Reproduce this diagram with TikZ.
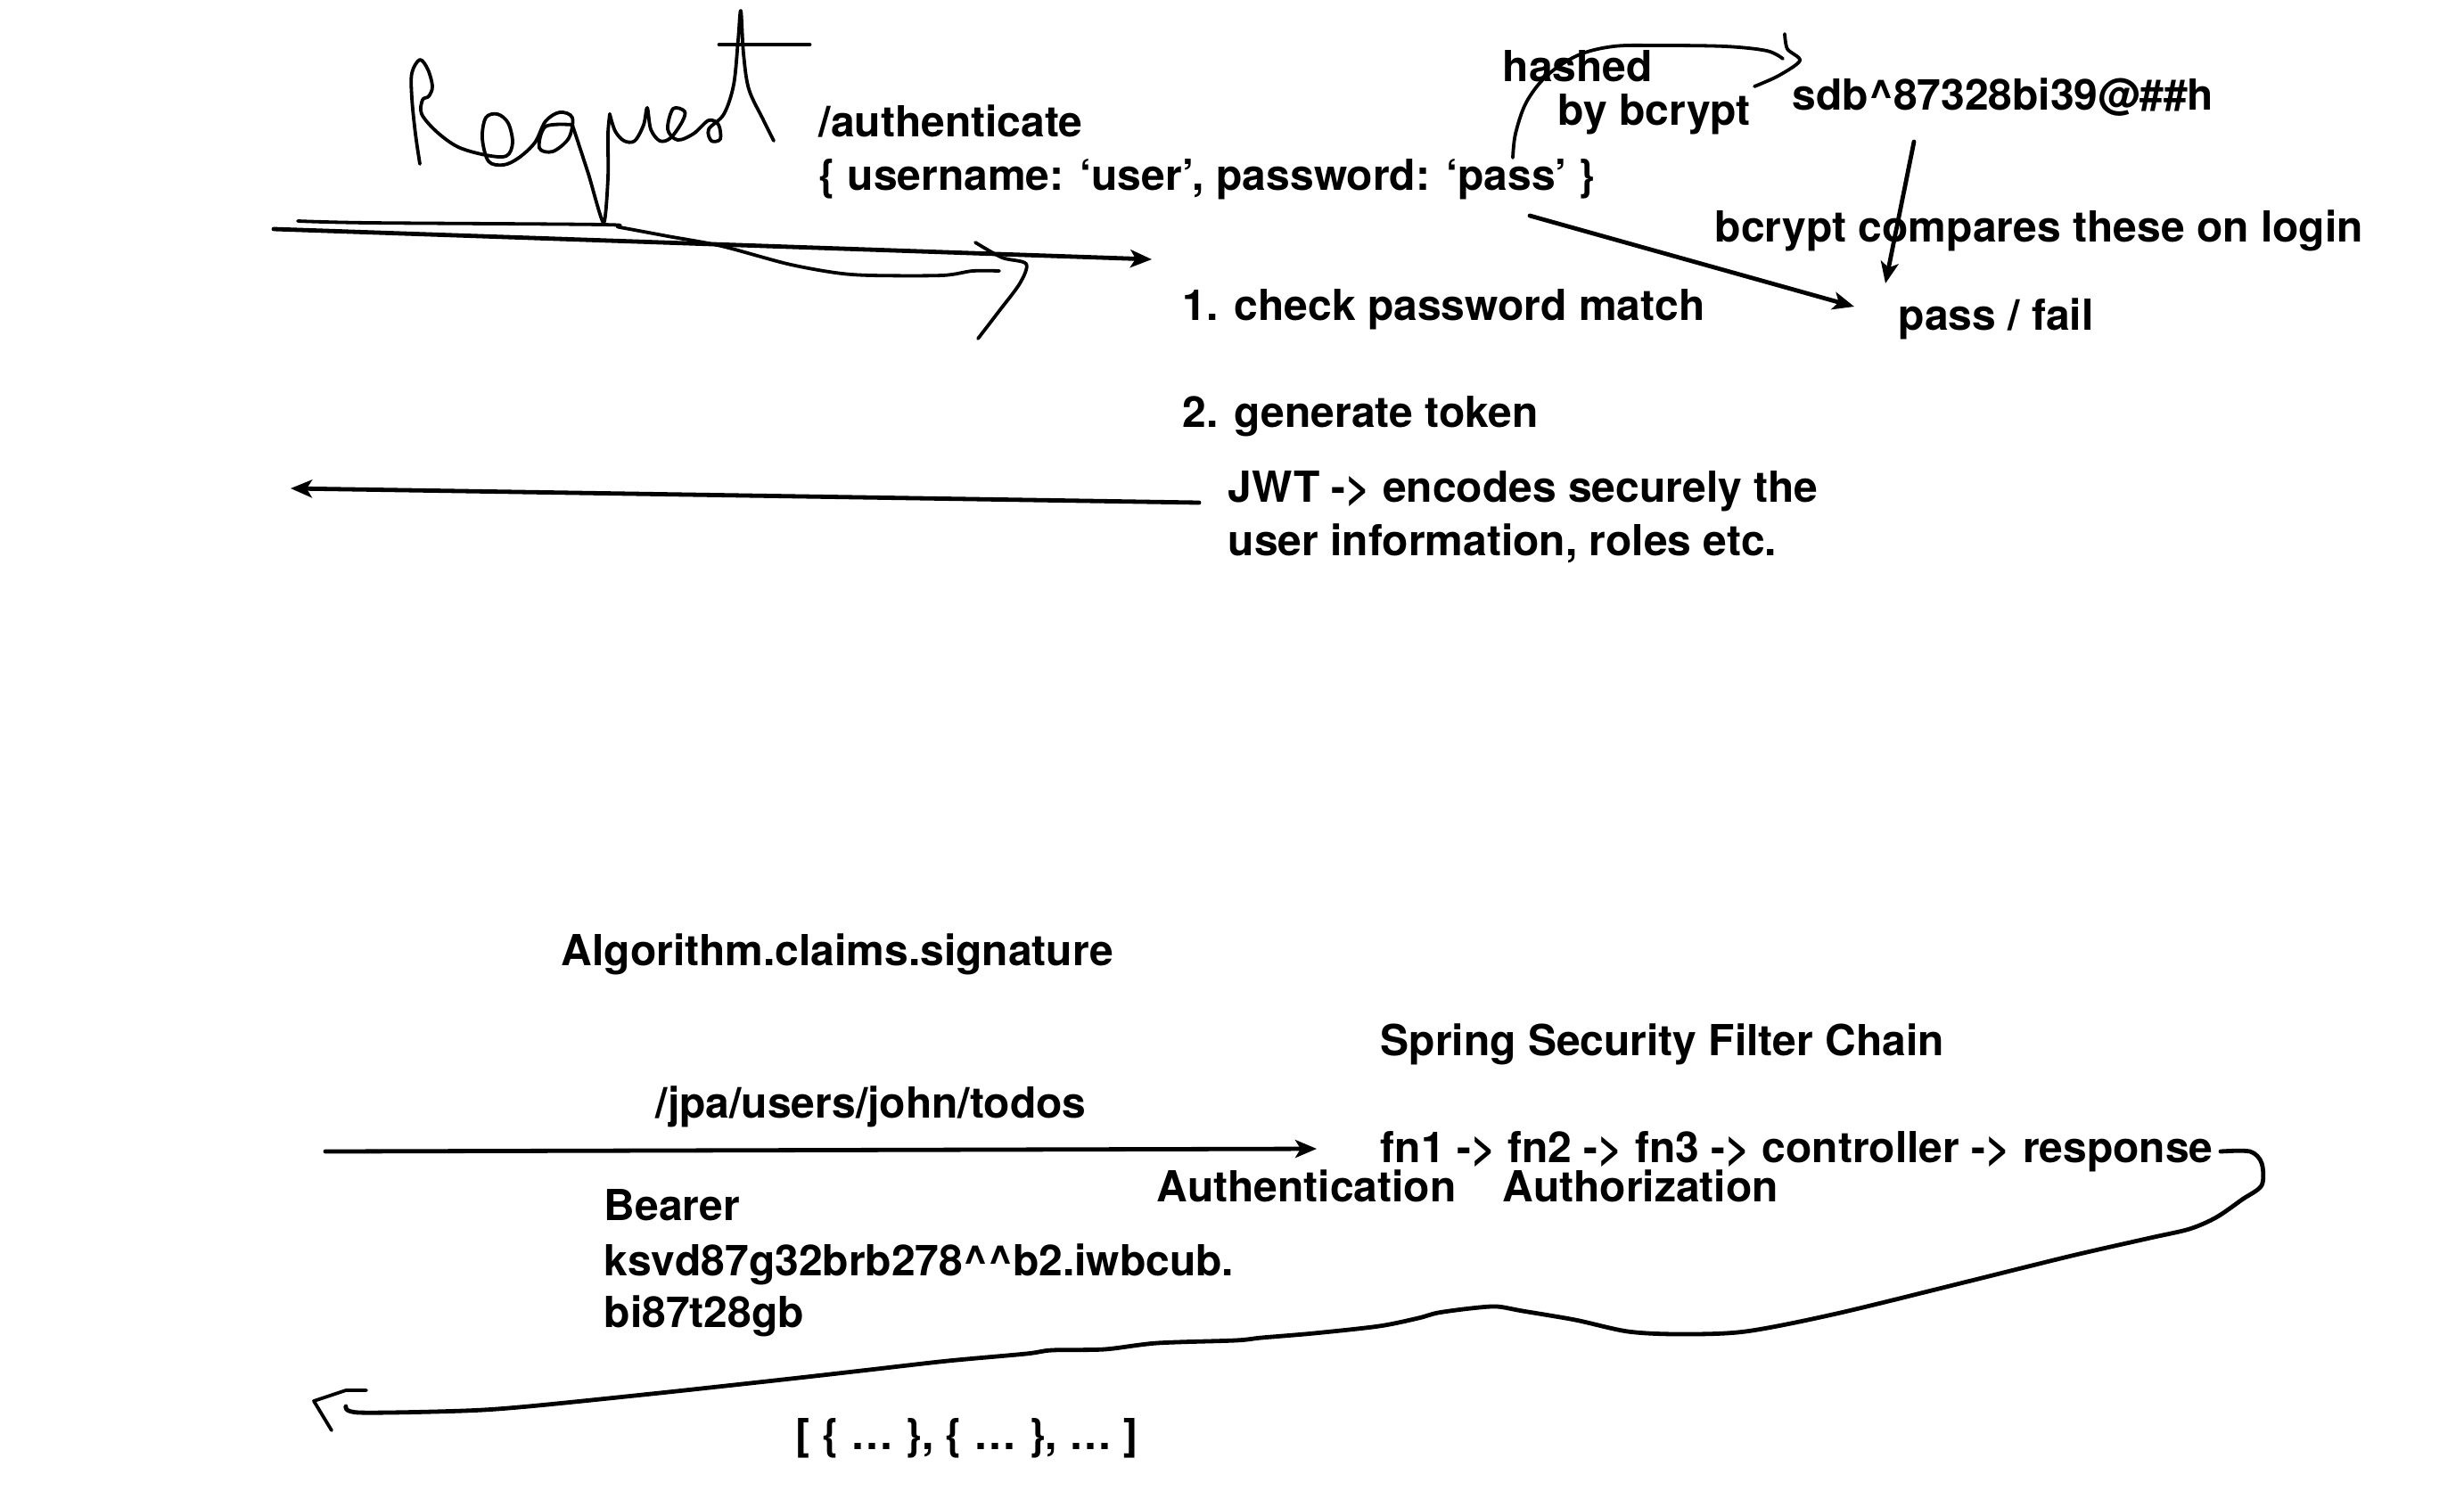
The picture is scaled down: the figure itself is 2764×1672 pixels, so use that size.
\documentclass[tikz,border=0pt]{standalone}
\usepackage{fontspec}
\setmainfont{TeX Gyre Heros}
\usetikzlibrary{arrows.meta}
\begin{document}
\begin{tikzpicture}[x=0.25pt,y=-0.25pt,
  txt/.style={font=\fontsize{12}{14}\selectfont\bfseries, inner sep=0pt, anchor=base west},
  ink/.style={line width=1.2pt, line cap=round, line join=round},
  thin ink/.style={line width=0.95pt, line cap=round, line join=round},
  arr/.style={ink, -{Stealth[length=6pt,width=5pt,inset=1.5pt]}}]
\useasboundingbox[fill=white] (0,0) rectangle (2764,1672);

% ---------- texts ----------
\node[txt] (auth) at (918,153) {/authenticate};
\node[txt] (body) at (918,213) {\{ username: ‘user’, password: ‘pass’ \}};
\node[txt] (hashed) at (1685,91) {hashed};
\node[txt] (bybc) at (1747,140) {by bcrypt};
\node[txt] (hash) at (2010,123) {sdb\textasciicircum 87328bi39@\#\#h};
\node[txt] (cmp) at (1923,271) {bcrypt compares these on login};
\node[txt] (check) at (1326,359) {1. check password match};
\node[txt] (pf) at (2129,370) {pass / fail};
\node[txt] (gen) at (1326,479) {2. generate token};
\node[txt] (jwt1) at (1377,563) {JWT -> encodes securely the};
\node[txt] (jwt2) at (1377,623) {user information, roles etc.};
\node[txt] (algo) at (629,1083) {Algorithm.claims.signature};
\node[txt] (ssfc) at (1548,1184) {Spring Security Filter Chain};
\node[txt] (jpa) at (735,1254) {/jpa/users/john/todos};
\node[txt] (chain) at (1548,1304) {fn1 -> fn2 -> fn3 -> controller -> response};
\node[txt] (authn) at (1297,1348) {Authentication};
\node[txt] (authz) at (1685,1348) {Authorization};
\node[txt] (bearer) at (677,1369) {Bearer};
\node[txt] (tok1) at (677,1431) {ksvd87g32brb278\textasciicircum\textasciicircum b2.iwbcub.};
\node[txt] (tok2) at (677,1489) {bi87t28gb};
\node[txt] (list) at (892,1626) {[ \{ … \}, \{ … \}, … ]};

% ---------- connector end points ----------
\coordinate (reqS) at (307,257);
\coordinate (reqE) at (1292,291);
\coordinate (resS) at (1345,564);
\coordinate (resE) at (326,548);
\coordinate (passS) at (1716,242);
\coordinate (passE) at (2080,344);
\coordinate (hashS) at (2147,159);
\coordinate (hashE) at (2115,318);
\coordinate (jpaS) at (365,1292);
\coordinate (jpaE) at (1477,1289);

% ---------- arrows ----------
\draw[arr] (reqS) -- (reqE);
\draw[arr] (resS) -- (resE);
\draw[arr] (passS) -- (passE);
\draw[arr] (hashS) -- (hashE);
\draw[arr] (jpaS) -- (jpaE);

% ---------- handwritten "Request" ----------
\draw[thin ink] plot[smooth, tension=0.55] coordinates {
 (471,184) (466,150) (462,110) (462,82) (471,67) (480,78) (485,97) (481,108) (474,112)
 (473,128) (490,148) (514,165) (545,174) (568,175) (575,160) (570,138) (558,128)
 (545,132) (541,155) (548,181) (565,185) (582,177) (600,160) (612,136) (628,126)
 (642,132) (638,155) (620,170) (605,166) (612,142) (642,140)};
\draw[thin ink] plot[smooth, tension=0.4] coordinates {
 (642,140) (660,195) (677,250) (682,200) (682,150) (684,128)};
\draw[thin ink] plot[smooth, tension=0.55] coordinates {
 (684,128) (690,147) (700,158) (712,158) (722,140) (726,121) (730,145) (740,158)
 (752,155) (765,137) (768,125) (755,122) (749,145) (760,157) (778,150) (795,135)
 (806,140) (808,156) (798,158) (795,145) (812,128) (823,95) (828,45) (831,12)
 (834,60) (840,100) (856,134) (868,158)};
\draw[ink] (807,50) -- (908,50);

% ---------- scribble under the request arrow ----------
\draw[thin ink] plot[smooth, tension=0.5] coordinates {
 (334,248) (414,250) (675,252) (695,255) (749,265) (809,276) (883,296) (937,306)
 (977,309) (1057,309) (1091,304) (1121,304)};
\draw[thin ink] plot[smooth, tension=0.5] coordinates {
 (1094,272) (1124,289) (1151,296) (1144,318) (1120,350) (1097,380)};

% ---------- "hashed by bcrypt" curve ----------
\draw[thin ink] plot[smooth, tension=0.55] coordinates {
 (1697,177) (1700,150) (1712,115) (1735,85) (1770,62) (1810,52) (1860,51) (1935,52) (1982,57)
 (2000,66)};
\draw[thin ink] plot[smooth, tension=0.5] coordinates {
 (2002,38) (2005,55) (2019,68) (1995,85) (1968,97)};

% ---------- response curve back to client ----------
\draw[ink] plot[smooth, tension=0.5] coordinates {
 (2491,1292) (2524,1292) (2537,1305) (2537,1330) (2515,1346) (2486,1366) (2456,1379)
 (2412,1389) (2324,1409) (2207,1438) (2060,1474) (1958,1494) (1884,1497) (1826,1494)
 (1767,1481) (1708,1471) (1679,1466) (1650,1468) (1613,1473) (1591,1479) (1547,1488)
 (1474,1496) (1415,1501) (1386,1504) (1298,1507) (1239,1514) (1180,1515) (1151,1519)
 (1063,1527) (975,1537) (887,1547) (740,1563) (593,1578) (520,1583) (403,1585)
 (388,1578)};
\draw[thin ink] (411,1560) -- (388,1560) -- (352,1572) -- (372,1605);
\end{tikzpicture}
\end{document}
